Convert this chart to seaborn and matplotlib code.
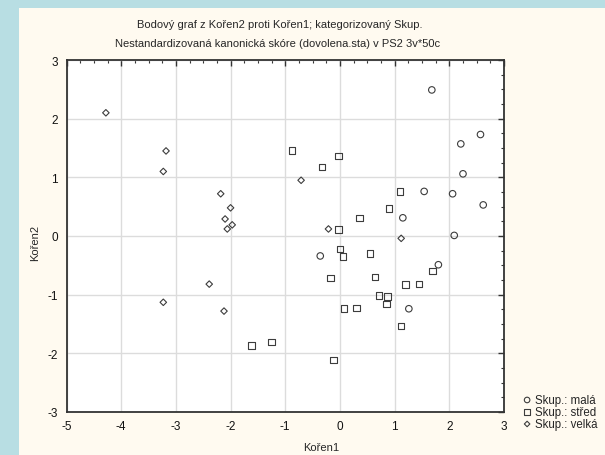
import matplotlib
matplotlib.use("Agg")
import matplotlib.pyplot as plt
from matplotlib.patches import Rectangle
from matplotlib.ticker import MultipleLocator
import seaborn as sns
import pandas as pd

# Canonical scores per group (Kořen1, Kořen2)
mala_x = [1.68, 2.57, 2.21, 2.25, 1.54, 2.06, 2.62, 1.15, 2.09, -0.36, 1.80, 1.26]
mala_y = [2.49, 1.73, 1.57, 1.06, 0.76, 0.72, 0.53, 0.31, 0.01, -0.34, -0.49, -1.24]

stred_x = [-0.88, -0.03, -0.33, 1.10, 0.90, 0.36, -0.03, 0.00, 0.06, 0.55, 1.69, -0.17,
           0.64, 1.20, 1.45, 0.71, 0.87, 0.85, 0.07, 0.30, 1.12, -1.25, -1.62, -0.12]
stred_y = [1.46, 1.36, 1.18, 0.76, 0.47, 0.31, 0.11, -0.22, -0.35, -0.30, -0.60, -0.72,
           -0.70, -0.83, -0.82, -1.01, -1.03, -1.16, -1.24, -1.23, -1.53, -1.81, -1.87, -2.11]

velka_x = [-4.28, -3.18, -3.23, -2.18, -2.00, -2.10, -2.06, -1.97, -0.71, -0.21, 1.12,
           -2.39, -3.23, -2.12]
velka_y = [2.10, 1.45, 1.10, 0.72, 0.48, 0.29, 0.12, 0.19, 0.95, 0.12, -0.04,
           -0.82, -1.13, -1.28]

groups = ["malá", "střed", "velká"]
labels = ["Skup.: malá", "Skup.: střed", "Skup.: velká"]

df = pd.concat([
    pd.DataFrame({"Kořen1": mala_x, "Kořen2": mala_y, "Skup": "malá"}),
    pd.DataFrame({"Kořen1": stred_x, "Kořen2": stred_y, "Skup": "střed"}),
    pd.DataFrame({"Kořen1": velka_x, "Kořen2": velka_y, "Skup": "velká"}),
], ignore_index=True)

sns.set_style("white")
plt.rcParams["font.family"] = ["Liberation Sans", "DejaVu Sans"]
plt.rcParams["axes.unicode_minus"] = False

fig = plt.figure(figsize=(6.05, 4.56), dpi=100, facecolor="#b8dee3")
fig.patches.append(Rectangle((19 / 605, 0), 1, (456 - 9) / 456,
                             transform=fig.transFigure, facecolor="#fffaf0",
                             edgecolor="none", zorder=-10))

ax = fig.add_axes([66.5 / 605, (456 - 413) / 456, 437.5 / 605, 352 / 456])
ax.set_facecolor("white")

markers = {"malá": "o", "střed": "s", "velká": "D"}
sizes = {"malá": 22, "střed": 22, "velká": 11}
handles = []
for g, lab in zip(groups, labels):
    sub = df[df["Skup"] == g]
    sns.scatterplot(data=sub, x="Kořen1", y="Kořen2", marker=markers[g], s=sizes[g],
                    facecolors="none", edgecolor="#3c3c3c", linewidth=0.8,
                    ax=ax, zorder=3, legend=False)
    handles.append(ax.collections[-1])

ax.set_xlim(-5, 3)
ax.set_ylim(-3, 3)
ax.xaxis.set_major_locator(MultipleLocator(1))
ax.yaxis.set_major_locator(MultipleLocator(1))
ax.xaxis.set_minor_locator(MultipleLocator(0.25))
ax.yaxis.set_minor_locator(MultipleLocator(0.25))
ax.grid(True, which="major", color="#dcdcdc", linewidth=1.0, zorder=0)
ax.set_axisbelow(True)
ax.tick_params(which="both", direction="in", top=True, right=True,
               color="#333333", labelsize=8.5, labelcolor="#111111")
ax.tick_params(which="major", length=4, width=1)
ax.tick_params(which="minor", length=2.5, width=0.8)
ax.tick_params(axis="x", pad=6)
ax.tick_params(axis="y", pad=6)
for sp in ax.spines.values():
    sp.set_color("#333333")
    sp.set_linewidth(1.3)
ax.set_xlabel("")
ax.set_ylabel("")

fig.text(321 / 605, 1 - 448 / 456, "Kořen1", ha="center", va="center", fontsize=8)
fig.text(35 / 605, 1 - 243 / 456, "Kořen2", ha="center", va="center", fontsize=8,
         rotation=90)
fig.text(280 / 605, 1 - 25 / 456, "Bodový graf z Kořen2 proti Kořen1; kategorizovaný Skup.",
         ha="center", va="center", fontsize=8)
fig.text(278 / 605, 1 - 44 / 456,
         "Nestandardizovaná kanonická skóre (dovolena.sta) v PS2 3v*50c",
         ha="center", va="center", fontsize=8)

fig.legend(handles, labels, loc="center left",
           bbox_to_anchor=(515 / 605, 1 - 413 / 456), frameon=False,
           fontsize=8.3, handletextpad=0.15, labelspacing=0.0, borderpad=0,
           handlelength=1.1, markerscale=0.85)

fig.savefig("out.png", dpi=100, facecolor=fig.get_facecolor())
